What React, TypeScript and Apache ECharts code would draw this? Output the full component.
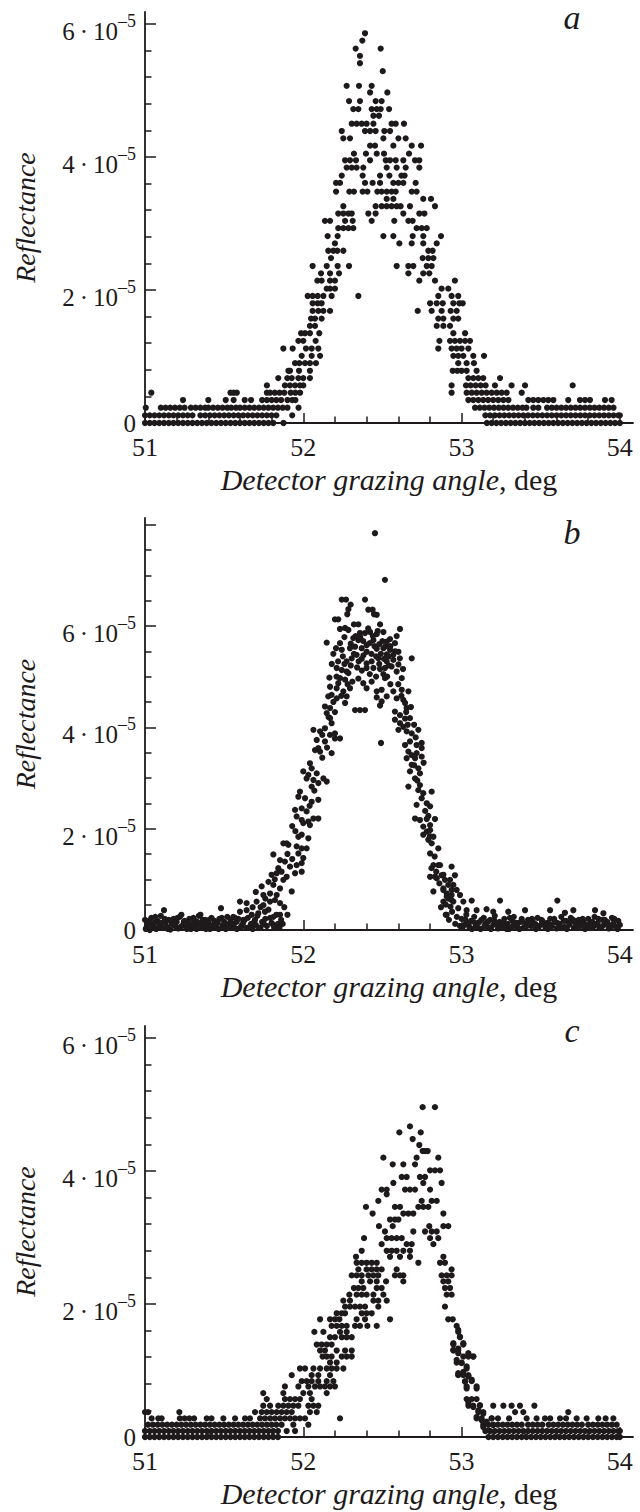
import React, { useEffect, useRef } from "react";
import * as echarts from "echarts";

// ---------- axis ticks / labels ----------
const X_TICKS = [51, 52, 53, 54];
const X_MINOR = [51.2, 51.4, 51.6, 51.8, 52.2, 52.4, 52.6, 52.8, 53.2, 53.4, 53.6, 53.8];
const Y_TICKS_AC = [0, 2, 4, 6];
const Y_MINOR_AC = [0.4, 0.8, 1.2, 1.6, 2.4, 2.8, 3.2, 3.6, 4.4, 4.8, 5.2, 5.6];
const Y_TICKS_B = [0, 2, 4, 6, 8];
const Y_LABELS_B = [0, 2, 4, 6];
const Y_MINOR_B = [0.5, 1, 1.5, 2.5, 3, 3.5, 4.5, 5, 5.5, 6.5, 7, 7.5];
const PANEL_LETTERS = ["a", "b", "c"];
const X_NAME = "Detector grazing angle";
const Y_NAME = "Reflectance";

// ---------- panel a: reflectance (units of 1e-5) rows, x = angle in deg ----------
const A_ROWS: [number, number[]][] = [
  [0, [51.00,51.03,51.06,51.09,51.12,51.15,51.18,51.21,51.24,51.27,51.30,51.33,51.36,51.39,51.42,51.45,51.48,51.51,51.54,51.57,51.60,51.63,51.66,51.69,51.72,51.75,51.78,51.81,51.875,
       53.16,53.19,53.22,53.25,53.28,53.31,53.34,53.37,53.40,53.43,53.46,53.49,53.52,53.55,53.58,53.61,53.64,53.67,53.70,53.73,53.76,53.79,53.82,53.85,53.88,53.91,53.94,53.97,54.00]],
  [0.115, [51.00,51.03,51.06,51.09,51.12,51.15,51.18,51.21,51.24,51.27,51.30,51.35,51.38,51.41,51.44,51.47,51.50,51.53,51.56,51.59,51.62,51.65,51.68,51.71,51.74,51.77,51.80,51.83,51.93,
       53.15,53.18,53.21,53.24,53.27,53.30,53.33,53.36,53.39,53.42,53.45,53.48,53.51,53.54,53.57,53.60,53.63,53.66,53.69,53.72,53.75,53.78,53.81,53.84,53.87,53.90,53.93,53.96,53.99,54.00]],
  [0.23, [51.005,51.10,51.13,51.16,51.19,51.22,51.25,51.29,51.32,51.35,51.38,51.40,51.43,51.46,51.49,51.52,51.545,51.575,51.60,51.63,51.66,51.69,51.72,51.75,51.78,51.81,51.84,51.87,51.90,51.97,
       53.085,53.115,53.145,53.175,53.205,53.235,53.265,53.295,53.325,53.355,53.385,53.41,53.453,53.485,53.54,53.57,53.60,53.63,53.66,53.69,53.72,53.75,53.78,53.81,53.84,53.87,53.90,53.93,53.96]],
  [0.345, [51.24,51.40,51.51,51.56,51.63,51.67,51.74,51.77,51.80,51.83,51.86,51.90,51.93,51.95,
       53.043,53.074,53.106,53.137,53.168,53.20,53.232,53.264,53.296,53.422,53.453,53.485,53.517,53.548,53.58,53.674,53.748,53.78,53.811,53.906,53.948]],
  [0.455, [51.04,51.54,51.56,51.58,51.77,51.79,51.82,51.85,51.88,51.92,51.95,51.98,52.937,53.032,53.064,53.095,53.127,53.158,53.19,53.222,53.253,53.285,53.38]],
  [0.565, [51.77,51.884,51.916,51.948,51.979,52.00,52.937,53.028,53.057,53.089,53.121,53.152,53.211,53.316,53.401,53.702]],
  [0.675, [51.842,51.899,51.927,51.969,52.00,52.042,53.043,53.074,53.106,53.137,53.243]],
  [0.785, [51.906,51.916,51.973,52.042,52.944,52.973,53.00,53.032,53.095]],
  [0.9, [51.948,51.975,52.011,52.042,52.080,52.979,53.032,53.078]],
  [1.01, [51.990,52.053,52.106,52.948,52.979,53.011,53.074,53.142]],
  [1.12, [51.874,51.933,52.017,52.053,52.095,52.853,52.937,52.969,53.000,53.043]],
  [1.235, [51.969,52.000,52.078,52.860,52.927,52.958,52.990,53.022,53.053]],
  [1.35, [51.986,52.011,52.042,52.101,52.948,53.022]],
  [1.46, [52.042,52.074,52.843,52.885,52.927]],
  [1.57, [52.049,52.074,52.116,52.853,52.885,52.948,52.979]],
  [1.685, [52.059,52.095,52.127,52.169,52.723,52.811,52.874,52.931,52.969]],
  [1.80, [52.059,52.091,52.116,52.801,52.843,52.881,52.948,52.986,53.007]],
  [1.91, [52.028,52.059,52.091,52.127,52.179,52.348,52.853,52.937,52.979]],
  [2.02, [52.148,52.169,52.200,52.874,52.916]],
  [2.14, [52.089,52.116,52.169,52.200,52.733,52.832,52.958]],
  [2.25, [52.112,52.169,52.226,52.664,52.758,52.796]],
  [2.36, [52.059,52.148,52.217,52.289,52.590,52.664,52.695,52.780,52.811]],
  [2.48, [52.175,52.754,52.790,52.822]],
  [2.59, [52.158,52.190,52.215,52.253,52.790,52.817]],
  [2.70, [52.200,52.607,52.685,52.758,52.843]],
  [2.81, [52.154,52.217,52.506,52.569,52.691,52.758,52.870]],
  [2.93, [52.221,52.253,52.285,52.316,52.716,52.748,52.780]],
  [3.04, [52.137,52.169,52.264,52.312,52.432,52.575,52.664,52.691]],
  [3.15, [52.221,52.253,52.285,52.306,52.411,52.457,52.632,52.733,52.765]],
  [3.26, [52.253,52.457,52.495,52.527,52.558,52.590,52.615,52.674,52.832]],
  [3.37, [52.527,52.569,52.758,52.807]],
  [3.48, [52.207,52.291,52.320,52.375,52.405,52.468,52.495,52.527,52.558,52.584,52.685,52.716]],
  [3.61, [52.207,52.232,52.390,52.438,52.485,52.569,52.601,52.632,52.710]],
  [3.72, [52.243,52.375,52.485,52.544,52.620,52.640]],
  [3.84, [52.274,52.306,52.337,52.379,52.527,52.590,52.647,52.733]],
  [3.95, [52.264,52.295,52.333,52.422,52.521,52.548,52.584,52.632,52.706,52.733]],
  [4.05, [52.320,52.396,52.464,52.510,52.668]],
  [4.17, [52.422,52.453,52.569,52.685,52.744]],
  [4.28, [52.253,52.295,52.506,52.601,52.647]],
  [4.39, [52.243,52.390,52.422,52.457,52.512,52.548]],
  [4.50, [52.306,52.337,52.369,52.400,52.443,52.558,52.584,52.636]],
  [4.62, [52.443,52.478]],
  [4.72, [52.316,52.348,52.432,52.464,52.489,52.542]],
  [4.84, [52.289,52.358,52.457,52.495]],
  [4.97, [52.422,52.531]],
  [5.07, [52.274,52.352,52.432]],
  [5.29, [52.502]],
  [5.41, [52.358]],
  [5.52, [52.358]],
  [5.63, [52.331,52.489]],
  [5.75, [52.373]],
  [5.86, [52.390]],
];

// ---------- panel b: [angle, reflectance] ----------
const B_PEAK: [number, number][] = [
  [52.453,7.83],[52.516,6.91],[52.243,6.52],[52.270,6.52],[52.299,6.42],[52.390,6.52],[52.285,6.33],[52.278,6.23],[52.411,6.32],[52.438,6.32],[52.464,6.22],[52.447,6.23],
  [52.200,6.13],[52.221,6.13],[52.320,6.03],[52.348,6.03],[52.485,6.03],
  [52.232,5.94],[52.264,5.96],[52.285,5.92],[52.358,5.86],[52.390,5.86],[52.422,5.88],[52.464,5.84],[52.506,5.88],[52.611,5.94],
  [52.316,5.76],[52.348,5.72],[52.379,5.70],[52.443,5.72],[52.527,5.69],[52.548,5.74],[52.579,5.66],[52.148,5.67],[52.232,5.66],
  [52.207,5.56],[52.243,5.53],[52.295,5.56],[52.327,5.59],[52.369,5.56],[52.400,5.49],[52.464,5.55],[52.506,5.56],[52.548,5.53],[52.601,5.49],[52.337,5.43],[52.527,5.44],[52.569,5.43],
  [52.306,5.36],[52.274,5.30],[52.369,5.35],[52.400,5.26],[52.432,5.30],[52.474,5.36],[52.527,5.30],[52.569,5.33],[52.685,5.36],[52.601,5.24],
  [52.211,5.17],[52.243,5.13],[52.274,5.10],[52.400,5.17],[52.443,5.17],[52.485,5.15],[52.516,5.17],[52.558,5.20],[52.590,5.10],[52.285,5.07],[52.506,5.05],
  [52.165,4.98],[52.232,4.97],[52.264,4.94],[52.348,4.96],[52.379,4.87],[52.432,4.90],[52.516,4.97],[52.622,4.97],[52.221,4.87],
  [52.169,4.80],[52.211,4.77],[52.253,4.71],[52.295,4.77],[52.400,4.77],[52.464,4.71],[52.495,4.74],[52.569,4.71],[52.622,4.74],[52.664,4.71],
  [52.179,4.64],[52.158,4.61],[52.211,4.57],[52.274,4.61],[52.464,4.59],[52.495,4.51],[52.527,4.61],[52.590,4.57],[52.632,4.54],[52.264,4.48],[52.485,4.43],[52.643,4.48],
  [52.137,4.41],[52.169,4.38],[52.327,4.34],[52.358,4.34],[52.390,4.34],[52.148,4.28],[52.579,4.31],[52.611,4.24],[52.653,4.38],
  [52.169,4.18],[52.179,4.08],[52.579,4.15],[52.611,4.08],[52.643,4.17],[52.674,4.18],
  [52.064,3.95],[52.106,3.92],[52.137,3.98],[52.169,3.85],[52.200,3.88],[52.232,3.78],[52.601,3.95],[52.632,4.01],[52.653,3.92],[52.685,3.88],[52.727,3.95],
  [52.085,3.75],[52.137,3.72],[52.200,3.78],[52.491,3.69],[52.643,3.65],[52.674,3.72],[52.716,3.65],[52.748,3.69],[52.748,3.59],[52.095,3.59],
  [52.106,3.52],[52.179,3.49],[52.664,3.52],[52.685,3.45],[52.706,3.39],[52.716,3.49],[52.748,3.42],[52.074,3.55],[52.653,3.39],
  [52.000,3.13],[52.042,3.29],[52.053,3.19],[52.085,3.09],[52.685,3.26],[52.727,3.19],[52.674,3.13],[52.737,3.09],[52.032,3.06],
  [52.021,2.99],[52.064,2.96],[52.095,2.90],[52.127,2.99],[52.148,2.93],[52.706,2.99],[52.737,2.86],[52.664,2.83],[52.053,2.83],
  [51.979,2.73],[51.969,2.63],[52.011,2.60],[52.053,2.53],[52.095,2.57],[52.727,2.76],[52.758,2.70],[52.811,2.73],[52.748,2.60],
  [51.948,2.37],[51.990,2.40],[52.021,2.34],[52.716,2.47],[52.780,2.50],[52.801,2.44],[52.706,2.20],
  [51.958,2.24],[51.990,2.17],[52.032,2.14],[52.064,2.20],[52.095,2.20],[52.042,2.07],[52.000,2.11],[52.737,2.17],[52.780,2.19],[52.832,2.19],[52.758,2.04],[52.801,2.07],
  [51.969,1.84],[51.990,1.88],[52.032,1.81],[51.895,1.71],[52.780,1.94],[52.801,1.97],[52.758,1.88],[52.822,1.84],[52.790,1.78],
  [51.874,1.71],[51.906,1.68],[51.958,1.65],[51.990,1.61],[52.021,1.61],[51.969,1.51],[52.811,1.71],[52.853,1.61],[52.801,1.51],[51.811,1.49],
  [51.853,1.38],[51.884,1.35],[51.916,1.25],[51.958,1.28],[51.990,1.32],[52.000,1.42],[51.842,1.22],[52.822,1.28],[52.853,1.28],
  [51.800,1.09],[51.832,1.12],[51.863,1.15],[51.895,1.05],[51.948,1.12],[51.990,1.15],[51.874,0.99],[52.801,1.05],[52.843,1.02],[52.885,1.09],
  [51.737,0.86],[51.811,0.89],[51.853,0.82],[51.927,0.76],[51.748,0.69],[51.790,0.72],[51.832,0.69],[52.822,0.76],[52.885,0.82],[52.906,0.72],
  [51.705,0.56],[51.748,0.49],[51.790,0.56],[51.821,0.59],[51.853,0.53],[51.600,0.56],[51.642,0.53],[52.885,0.56],[52.916,0.62],
  [51.558,0.26],[51.600,0.36],[51.642,0.39],[51.674,0.30],[51.716,0.33],[51.758,0.36],[51.811,0.26],[51.853,0.30],[51.579,0.16],[51.621,0.20],[51.695,0.20],[52.906,0.30],
];
// denser part of the b cloud
const B_PEAK_FILL: [number, number][] = [
  [52.33,5.80],[52.36,5.78],[52.40,5.62],[52.42,5.66],[52.45,5.60],[52.48,5.64],[52.50,5.70],[52.52,5.60],[52.54,5.40],[52.49,5.45],
  [52.46,5.40],[52.43,5.45],[52.38,5.42],[52.35,5.30],[52.32,5.45],[52.30,5.22],[52.34,5.18],[52.37,5.12],[52.42,5.05],[52.46,5.00],
  [52.48,5.25],[52.51,5.35],[52.54,5.22],[52.58,5.50],[52.61,5.36],[52.63,5.15],[52.60,4.85],[52.55,4.85],[52.53,5.00],[52.25,5.40],
  [52.22,5.30],[52.19,5.45],[52.18,5.25],[52.26,5.25],[52.28,4.85],[52.31,4.90],[52.24,4.62],[52.19,4.50],[52.20,4.30],[52.16,4.20],
  [52.62,4.62],[52.65,4.30],[52.68,4.40],[52.66,4.05],[52.70,4.05],[52.71,3.80],[52.12,3.85],[52.15,3.60],[52.12,3.40],[52.70,3.25],
  [52.76,3.30],[52.72,2.95],[52.07,2.75],[52.04,2.45],[52.77,2.35],[52.79,2.25],[51.93,2.05],[51.95,1.95],[52.80,1.85],[52.83,1.45],
  [51.90,1.50],[51.93,1.40],[52.84,1.15],[51.78,0.95],[51.82,1.00],[52.86,0.92],[51.70,0.75],[51.76,0.62],[51.68,0.45],[51.73,0.45],
  [52.87,0.45],[52.90,0.50],[52.41,5.95],[52.44,5.80],[52.47,5.90],[52.30,5.65],[52.26,5.78],[52.55,5.60],[52.59,5.80],[52.21,5.00],
];
const B_RIGHT_FLANK: [number, number][] = [
  [52.810,1.22],[52.832,1.05],[52.864,1.28],[52.874,1.08],[52.895,0.99],[52.916,0.89],[52.937,0.79],[52.885,0.79],[52.906,0.66],[52.937,0.59],
  [52.937,1.25],[52.958,1.08],[52.927,0.99],[52.948,0.89],[52.969,0.79],[52.937,0.69],[52.990,0.69],[52.948,0.56],[53.011,0.56],[53.064,0.58],
  [53.243,0.58],[53.605,0.58],[52.979,0.43],[53.032,0.39],[53.095,0.39],[53.158,0.41],[53.200,0.36],[53.295,0.36],[53.401,0.39],[53.559,0.39],
  [53.653,0.34],[53.706,0.39],[53.843,0.39],[53.896,0.33],[53.959,0.21],
  [52.900,0.30],[52.920,0.20],[52.940,0.36],[52.960,0.12],[52.970,0.26],[52.990,0.08],[52.930,0.46],
];
const B_LEFT_BASE: [number, number][] = [
  [51.00,0.20],[51.01,0.05],[51.02,0.12],[51.03,0.00],[51.04,0.24],[51.05,0.08],[51.06,0.15],[51.07,0.02],[51.08,0.18],[51.09,0.10],
  [51.10,0.28],[51.11,0.04],[51.12,0.39],[51.13,0.14],[51.14,0.06],[51.15,0.20],[51.16,0.01],[51.17,0.12],[51.18,0.22],[51.19,0.08],
  [51.20,0.16],[51.21,0.03],[51.22,0.26],[51.23,0.30],[51.24,0.10],[51.25,0.18],[51.26,0.05],[51.27,0.14],[51.28,0.22],[51.29,0.02],
  [51.30,0.12],[51.31,0.20],[51.32,0.07],[51.33,0.16],[51.34,0.28],[51.35,0.30],[51.36,0.04],[51.37,0.12],[51.38,0.20],[51.39,0.08],
  [51.40,0.15],[51.41,0.02],[51.42,0.24],[51.43,0.10],[51.44,0.18],[51.45,0.05],[51.46,0.14],[51.47,0.22],[51.48,0.43],[51.49,0.08],
  [51.50,0.16],[51.51,0.02],[51.52,0.26],[51.53,0.12],[51.54,0.20],[51.55,0.05],[51.56,0.10],[51.58,0.02],[51.59,0.22],[51.61,0.08],
  [51.62,0.14],[51.64,0.04],[51.65,0.24],[51.67,0.12],[51.68,0.02],[51.70,0.10],[51.71,0.28],[51.73,0.05],[51.74,0.16],[51.76,0.22],
  [51.77,0.08],[51.78,0.40],[51.80,0.14],[51.82,0.04],[51.84,0.12],[51.86,0.20],[51.88,0.45],[51.90,0.30],
  [51.005,0.02],[51.025,0.18],[51.045,0.10],[51.065,0.26],[51.085,0.04],[51.105,0.14],[51.125,0.22],[51.145,0.02],[51.165,0.18],[51.185,0.10],
  [51.205,0.24],[51.225,0.06],[51.245,0.16],[51.265,0.02],[51.285,0.10],[51.305,0.24],[51.325,0.02],[51.345,0.12],[51.365,0.20],[51.385,0.02],
  [51.405,0.20],[51.425,0.04],[51.445,0.10],[51.465,0.02],[51.485,0.24],[51.505,0.12],[51.525,0.04],[51.545,0.14],[51.57,0.24],[51.60,0.04],
  [51.63,0.20],[51.66,0.06],[51.69,0.16],[51.72,0.04],[51.75,0.12],[51.79,0.24],[51.81,0.10],[51.83,0.30],[51.85,0.05],[51.87,0.12],
];
const B_RIGHT_BASE: [number, number][] = [
  [53.00,0.22],[53.02,0.10],[53.03,0.30],[53.05,0.05],[53.06,0.18],[53.08,0.26],[53.09,0.08],[53.11,0.15],[53.12,0.02],[53.14,0.24],
  [53.15,0.12],[53.17,0.05],[53.18,0.20],[53.20,0.10],[53.21,0.28],[53.23,0.03],[53.24,0.16],[53.26,0.08],[53.27,0.22],[53.29,0.12],
  [53.30,0.02],[53.32,0.18],[53.33,0.26],[53.35,0.06],[53.36,0.14],[53.38,0.22],[53.39,0.04],[53.41,0.12],[53.42,0.20],[53.44,0.08],
  [53.45,0.16],[53.47,0.02],[53.48,0.24],[53.50,0.10],[53.51,0.18],[53.53,0.05],[53.54,0.14],[53.56,0.22],[53.57,0.08],[53.59,0.16],
  [53.60,0.03],[53.62,0.12],[53.63,0.26],[53.65,0.06],[53.66,0.18],[53.68,0.10],[53.69,0.24],[53.71,0.04],[53.72,0.14],[53.74,0.20],
  [53.75,0.08],[53.77,0.16],[53.78,0.02],[53.80,0.22],[53.81,0.12],[53.83,0.06],[53.84,0.26],[53.86,0.14],[53.87,0.04],[53.89,0.20],
  [53.90,0.10],[53.92,0.16],[53.93,0.03],[53.95,0.24],[53.96,0.12],[53.98,0.06],[53.99,0.18],[54.00,0.10],
  [53.005,0.04],[53.025,0.20],[53.045,0.12],[53.065,0.02],[53.085,0.14],[53.105,0.04],[53.125,0.20],[53.145,0.08],[53.165,0.16],[53.185,0.02],
  [53.205,0.20],[53.225,0.12],[53.245,0.04],[53.265,0.14],[53.285,0.02],[53.305,0.24],[53.325,0.08],[53.345,0.14],[53.365,0.02],[53.385,0.16],
  [53.405,0.04],[53.425,0.10],[53.445,0.22],[53.465,0.12],[53.485,0.04],[53.505,0.20],[53.525,0.12],[53.545,0.02],[53.565,0.10],[53.585,0.22],
  [53.605,0.14],[53.625,0.04],[53.645,0.18],[53.665,0.02],[53.685,0.14],[53.705,0.20],[53.725,0.06],[53.745,0.12],[53.765,0.22],[53.785,0.10],
  [53.805,0.04],[53.825,0.16],[53.845,0.10],[53.865,0.22],[53.885,0.06],[53.905,0.20],[53.925,0.12],[53.945,0.06],[53.965,0.22],[53.985,0.02],
];

// ---------- panel c ----------
const C_ROWS: [number, number[]][] = [
  [4.96, [52.754,52.832]],
  [4.67, [52.674]],
  [4.58, [52.607,52.742]],
  [4.48, [52.691]],
  [4.39, [52.733]],
  [4.30, [52.754,52.769,52.786]],
  [4.20, [52.506,52.716,52.853]],
  [4.10, [52.565,52.632,52.706]],
  [4.01, [52.801,52.832,52.864]],
  [3.91, [52.622,52.653,52.737,52.769]],
  [3.82, [52.569,52.758,52.874]],
  [3.72, [52.495,52.527,52.643,52.674,52.706,52.801]],
  [3.65, [52.527]],
  [3.55, [52.474,52.748,52.811,52.843]],
  [3.46, [52.396,52.579,52.611,52.727,52.758,52.790]],
  [3.36, [52.438,52.632,52.664,52.695,52.885]],
  [3.27, [52.548,52.579,52.601]],
  [3.17, [52.478,52.565,52.796,52.885,52.916]],
  [3.09, [52.516,52.695,52.769,52.811,52.843]],
  [2.99, [52.384,52.527,52.558,52.590,52.622,52.801,52.853]],
  [2.90, [52.495,52.653,52.685,52.822]],
  [2.80, [52.369,52.527,52.558,52.590,52.632,52.674]],
  [2.71, [52.333,52.548,52.611,52.674,52.885]],
  [2.62, [52.337,52.369,52.400,52.432,52.464,52.727,52.864,52.895]],
  [2.52, [52.348,52.400,52.432,52.464,52.495,52.590,52.937]],
  [2.43, [52.306,52.337,52.369,52.411,52.443,52.474,52.579,52.611,52.632,52.874,52.906,52.937]],
  [2.34, [52.369,52.422,52.464,52.523,52.632,52.885,52.916]],
  [2.24, [52.320,52.348,52.379,52.464,52.495,52.895,52.927]],
  [2.14, [52.291,52.337,52.369,52.400,52.443,52.506,52.906,52.937]],
  [2.05, [52.253,52.295,52.443,52.474,52.527]],
  [1.96, [52.264,52.295,52.327,52.358,52.390,52.474,52.895]],
  [1.86, [52.211,52.243,52.264,52.369,52.400,52.432]],
  [1.77, [52.106,52.169,52.200,52.228,52.337,52.390,52.548,52.916,52.944]],
  [1.67, [52.179,52.211,52.243,52.274,52.327,52.358,52.405,52.464,52.969]],
  [1.58, [52.070,52.127,52.232,52.274,52.979]],
  [1.50, [52.169,52.200,52.243,52.274,52.306,52.990]],
  [1.39, [52.085,52.116,52.148,52.179,52.948,53.011]],
  [1.30, [52.106,52.137,52.211,52.264,52.306,52.948,52.979]],
  [1.21, [52.122,52.148,52.179,52.243,52.274,52.306,53.011,53.043,53.074]],
  [1.12, [52.169,52.211,52.969,53.000]],
  [1.03, [51.979,52.011,52.064,52.106,52.148,52.179,52.211,52.253,53.032]],
  [0.93, [51.927,52.053,52.095,52.169,52.979,53.011,53.043]],
  [0.84, [51.990,52.021,52.053,52.095,52.148,52.190,53.022,53.064]],
  [0.76, [51.884,51.969,52.032,52.074,52.106,52.137,52.169,52.200,53.032,53.095]],
  [0.66, [51.747,51.874,52.000,52.042,52.148]],
  [0.57, [51.769,51.884,51.916,51.948,51.979,52.053,53.032,53.064,53.095]],
  [0.47, [51.747,51.790,51.842,51.874,51.906,51.937,51.969,52.032,52.064,52.095,53.043,53.074,53.116,53.200,53.264,53.316,53.369,53.460]],
  [0.375, [51.00,51.02,51.217,51.695,51.737,51.769,51.800,51.832,51.863,51.895,51.927,52.042,52.085,53.106,53.137,53.338,53.390,53.674]],
  [0.28, [51.042,51.084,51.105,51.22,51.25,51.28,51.31,51.39,51.42,51.495,51.569,51.632,51.663,51.727,51.758,51.790,51.821,51.853,51.884,51.916,51.948,51.979,52.011,52.232,
          53.095,53.127,53.190,53.23,53.30,53.411,53.474,53.527,53.56,53.622,53.66,53.727,53.79,53.864,53.91,53.959]],
  [0.185, [51.02,51.05,51.08,51.11,51.14,51.17,51.20,51.23,51.26,51.29,51.32,51.35,51.38,51.41,51.44,51.47,51.50,51.53,51.56,51.59,51.62,51.65,51.68,51.71,51.74,51.77,51.80,51.83,51.863,51.937,52.032,
          53.137,53.17,53.20,53.23,53.26,53.29,53.32,53.35,53.38,53.42,53.45,53.48,53.51,53.55,53.58,53.61,53.64,53.67,53.70,53.73,53.76,53.80,53.83,53.86,53.89,53.92,53.95,53.98]],
  [0.09, [51.00,51.03,51.06,51.09,51.12,51.15,51.18,51.21,51.24,51.27,51.30,51.33,51.36,51.39,51.42,51.45,51.48,51.51,51.54,51.57,51.60,51.63,51.66,51.69,51.72,51.75,51.78,51.81,51.84,51.895,51.948,
          53.15,53.18,53.21,53.24,53.27,53.30,53.33,53.36,53.39,53.42,53.45,53.48,53.51,53.54,53.57,53.60,53.63,53.66,53.69,53.72,53.75,53.78,53.81,53.84,53.87,53.90,53.93,53.96,53.99,54.00]],
  [0, [51.00,51.03,51.06,51.09,51.12,51.15,51.18,51.21,51.24,51.27,51.30,51.33,51.36,51.39,51.42,51.45,51.48,51.51,51.54,51.57,51.60,51.63,51.66,51.69,51.72,51.75,51.78,51.81,51.84,
          53.17,53.20,53.23,53.26,53.29,53.32,53.35,53.38,53.41,53.44,53.47,53.50,53.53,53.56,53.59,53.62,53.65,53.68,53.71,53.74,53.77,53.80,53.83,53.86,53.89,53.92,53.95,53.98,54.00]],
];
const C_RIGHT_FLANK: [number, number][] = [
  [52.979,1.61],[52.990,1.51],[52.948,1.41],[53.011,1.41],[52.979,1.33],[52.948,1.31],[53.043,1.26],[52.979,1.26],[53.074,1.21],
  [52.969,1.16],[53.000,1.11],[53.032,1.06],[52.979,0.96],[53.011,0.98],[53.043,0.91],[53.022,0.83],[53.064,0.86],[53.032,0.73],[53.095,0.73],
  [53.043,0.51],[53.116,0.48],[53.074,0.45],[53.106,0.40],[53.137,0.35],[53.095,0.30],[53.127,0.25],[53.158,0.23],[53.190,0.28],
  [53.137,0.15],[53.169,0.10],[53.200,0.18],
];

const rowsToPoints = (rows: [number, number[]][]) =>
  rows.flatMap(([y, xs]) => xs.map((x) => [x, y]));

const A_DATA = rowsToPoints(A_ROWS);
const B_DATA = [...B_LEFT_BASE, ...B_PEAK, ...B_PEAK_FILL, ...B_RIGHT_FLANK, ...B_RIGHT_BASE];
const C_DATA = [...rowsToPoints(C_ROWS), ...C_RIGHT_FLANK];

const FONT = "Liberation Serif";
const INK = "#1e1a1b";

export default function App() {
  const ref = useRef<HTMLDivElement>(null);

  useEffect(() => {
    if (!ref.current) return;
    const chart = echarts.init(ref.current, undefined, { renderer: "svg" });

    const panels = [
      { top: 12, height: 411, yMax: 6.18, yTicks: Y_TICKS_AC, yLabels: Y_TICKS_AC, yMinor: Y_MINOR_AC, data: A_DATA, letterY: 17 },
      { top: 518, height: 412, yMax: 8.13, yTicks: Y_TICKS_B, yLabels: Y_LABELS_B, yMinor: Y_MINOR_B, data: B_DATA, letterY: 532 },
      { top: 1026, height: 411, yMax: 6.18, yTicks: Y_TICKS_AC, yLabels: Y_TICKS_AC, yMinor: Y_MINOR_AC, data: C_DATA, letterY: 1030 },
    ];

    const xMin = 51;
    const xMax = 54.083;

    const option: any = {
      animation: false,
      backgroundColor: "#ffffff",
      textStyle: { fontFamily: FONT },
      grid: panels.map((p) => ({
        left: 145,
        top: p.top,
        width: 488,
        height: p.height,
        containLabel: false,
        outerBoundsMode: "none",
      })),
      xAxis: panels.flatMap((p, i) => [
        {
          gridIndex: i,
          type: "value",
          min: xMin,
          max: xMax,
          position: "bottom",
          axisLine: { show: true, onZero: false, lineStyle: { color: INK, width: 1.8 } },
          axisTick: { show: true, inside: true, length: 10, customValues: X_TICKS, lineStyle: { color: INK, width: 1.5 } },
          axisLabel: {
            show: true,
            customValues: X_TICKS,
            margin: 11,
            fontSize: 26,
            fontFamily: FONT,
            color: INK,
            formatter: (v: number) => String(v),
          },
          splitLine: { show: false },
          name: `{i|${X_NAME}}{n|, deg}`,
          nameLocation: "middle",
          nameGap: 41,
          nameTextStyle: {
            fontFamily: FONT,
            fontSize: 30,
            rich: {
              i: { fontSize: 30, fontStyle: "italic", fontFamily: FONT, color: INK },
              n: { fontSize: 30, fontFamily: FONT, color: INK },
            },
          },
        },
        {
          gridIndex: i,
          type: "value",
          min: xMin,
          max: xMax,
          position: "bottom",
          axisLine: { show: false, onZero: false },
          axisTick: { show: true, inside: true, length: 6.5, customValues: X_MINOR, lineStyle: { color: INK, width: 1.5 } },
          axisLabel: { show: false },
          splitLine: { show: false },
        },
      ]),
      yAxis: panels.flatMap((p, i) => [
        {
          gridIndex: i,
          type: "value",
          min: 0,
          max: p.yMax,
          position: "left",
          axisLine: { show: true, onZero: false, lineStyle: { color: INK, width: 1.8 } },
          axisTick: { show: true, inside: true, length: 11, customValues: p.yTicks, lineStyle: { color: INK, width: 1.5 } },
          axisLabel: {
            show: true,
            customValues: p.yLabels,
            margin: 9,
            fontFamily: FONT,
            formatter: (v: number) => (v === 0 ? "{z|0}" : `{b|${v}\u2009·\u200910}{s|–5}`),
            rich: {
              b: { fontSize: 25, fontFamily: FONT, color: INK, padding: [15, 0, 0, 0] },
              s: { fontSize: 18, fontFamily: FONT, color: INK, padding: [0, 0, 6, 0] },
              z: { fontSize: 25, fontFamily: FONT, color: INK },
            },
          },
          splitLine: { show: false },
          name: Y_NAME,
          nameLocation: "middle",
          nameRotate: 90,
          nameGap: 106,
          nameTextStyle: { fontSize: 28, fontStyle: "italic", fontFamily: FONT, color: INK },
        },
        {
          gridIndex: i,
          type: "value",
          min: 0,
          max: p.yMax,
          position: "left",
          axisLine: { show: false, onZero: false },
          axisTick: { show: true, inside: true, length: 6.5, customValues: p.yMinor, lineStyle: { color: INK, width: 1.5 } },
          axisLabel: { show: false },
          splitLine: { show: false },
        },
      ]),
      series: panels.map((p, i) => ({
        type: "scatter",
        xAxisIndex: i * 2,
        yAxisIndex: i * 2,
        data: p.data,
        symbol: "circle",
        symbolSize: 6.2,
        itemStyle: { color: INK, opacity: 1 },
        silent: true,
        clip: false,
      })),
      graphic: panels.map((p, i) => ({
        type: "text",
        x: 572,
        y: p.letterY,
        silent: true,
        style: {
          text: PANEL_LETTERS[i],
          fontSize: 34,
          fontStyle: "italic",
          fontFamily: FONT,
          fill: INK,
          align: "center",
          verticalAlign: "middle",
        },
      })),
    };

    chart.setOption(option);
    return () => chart.dispose();
  }, []);

  return (
    <div
      ref={ref}
      style={{ position: "absolute", left: 0, top: 0, width: 640, height: 1512, background: "#fff" }}
    />
  );
}
